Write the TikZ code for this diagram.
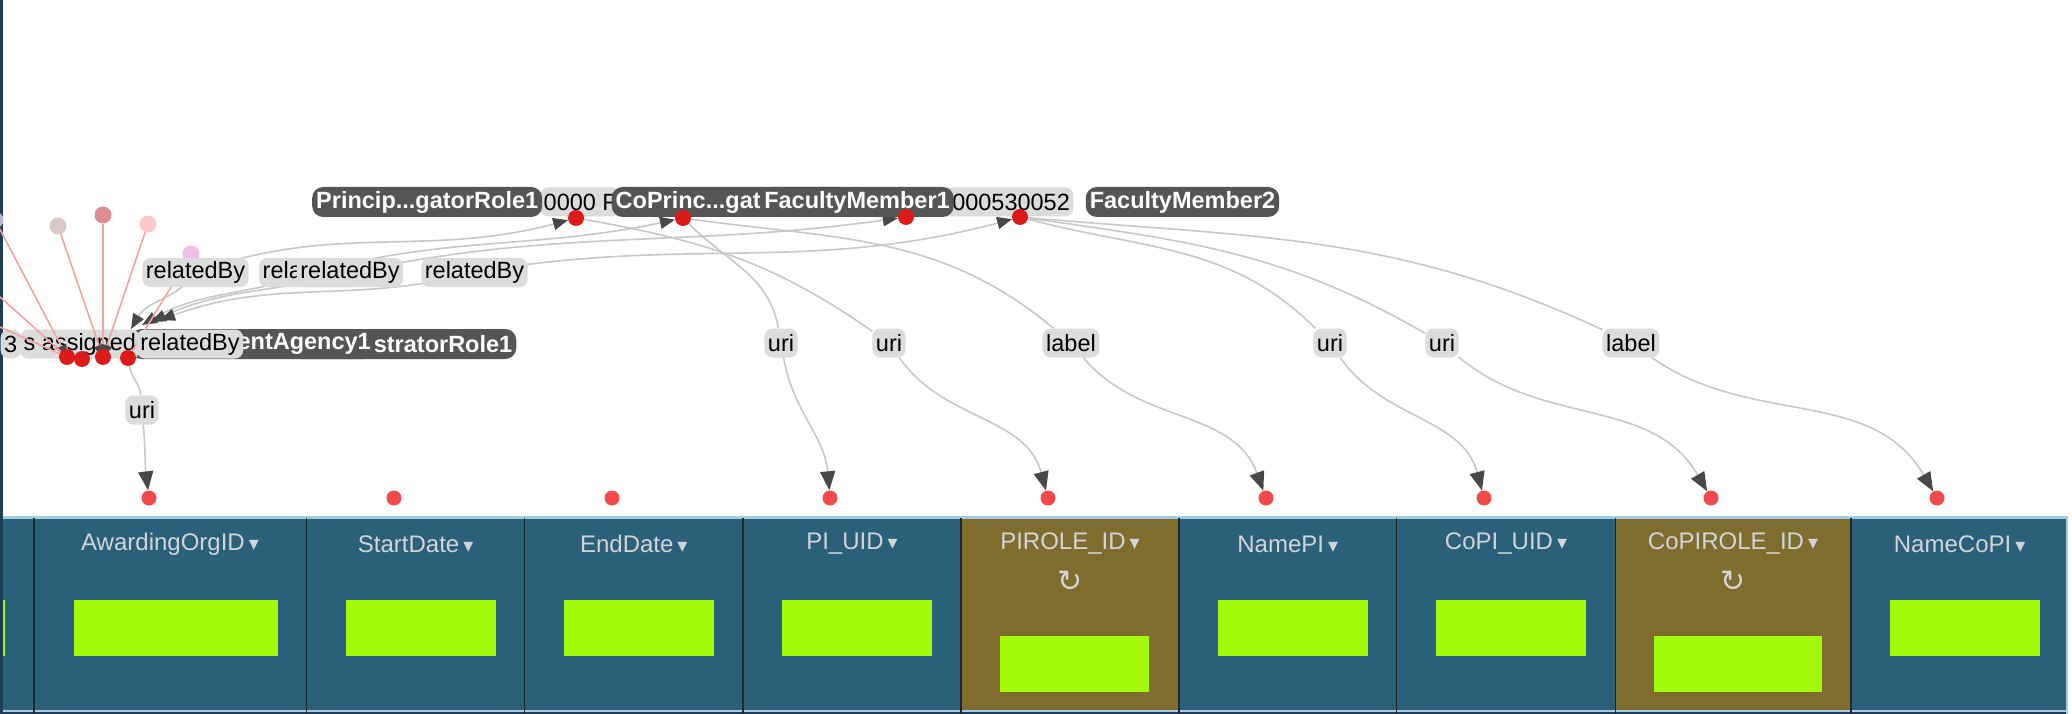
\documentclass[tikz,border=0pt]{standalone}
\usepackage{fontspec}
\setmainfont{Liberation Sans}
\newfontfamily\symfont{DejaVu Sans}
\usetikzlibrary{arrows.meta}
\pgfdeclarelayer{bg}
\pgfdeclarelayer{links}
\pgfdeclarelayer{low}
\pgfdeclarelayer{reds}
\pgfsetlayers{bg,links,low,reds,main}

\definecolor{colblue}{HTML}{2A607A}
\definecolor{cololive}{HTML}{7E6D2C}
\definecolor{limegreen}{HTML}{A2FA08}
\definecolor{hdrgray}{HTML}{D2D5D8}
\definecolor{lblgray}{HTML}{DCDCDC}
\definecolor{labeldark}{HTML}{555555}
\definecolor{edgegray}{HTML}{C8C8C8}
\definecolor{tipgray}{HTML}{484848}
\definecolor{nodered}{HTML}{DD1A1A}
\definecolor{colred}{HTML}{F24A4A}
\definecolor{linkred}{HTML}{F4A3A3}
\definecolor{bandline}{HTML}{A3CBE2}
\definecolor{edgeblue}{HTML}{1F3E55}
\definecolor{sepdark}{HTML}{262626}

\newcommand\ddarrow{{\symfont\fontsize{20}{20}\selectfont ▾}}
\newcommand\reloadicon{{\symfont\fontsize{30}{30}\selectfont ↻}}

\begin{document}
\begin{tikzpicture}[x=1pt,y=-1pt,
  font=\fontsize{23.5}{28}\selectfont,
  lightlbl/.style={fill=lblgray,text=black,rounded corners=8pt,inner xsep=3.5pt,inner ysep=0pt,minimum height=29pt},
  darklbl/.style={fill=labeldark,text=white,font=\fontsize{23.5}{28}\selectfont\bfseries,rounded corners=11pt,inner xsep=4pt,inner ysep=0pt,minimum height=30pt},
  hdr/.style={text=hdrgray,font=\fontsize{24}{28}\selectfont},
  topdot/.style={circle,fill=nodered,inner sep=0pt,minimum size=16pt},
  coldot/.style={circle,fill=colred,inner sep=0pt,minimum size=15pt},
  fadedot/.style={circle,inner sep=0pt,minimum size=17pt},
  graylink/.style={draw=edgegray,line width=1.6pt},
  redlink/.style={draw=linkred,line width=1.6pt},
  bigtip/.style={-{Triangle[length=19pt,width=15pt,color=tipgray]}},
  bothtips/.style={{Triangle[length=15pt,width=12pt,color=tipgray]}-{Triangle[length=15pt,width=12pt,color=tipgray]}},
  redtip/.style={-{Triangle[length=13pt,width=11pt,color=tipgray]},shorten >=-9pt},
  sepline/.style={draw=sepdark,line width=1.5pt}]
\useasboundingbox (0,0) rectangle (2072,714);

%columns
\begin{pgfonlayer}{bg}
\fill[white] (0,0) rectangle (2072,714);
\fill[colblue] (0,518) rectangle (961,710);
\fill[cololive] (961,518) rectangle (1179,710);
\fill[colblue] (1179,518) rectangle (1615.3,710);
\fill[cololive] (1615.3,518) rectangle (1851.2,710);
\fill[colblue] (1851.2,518) rectangle (2068,710);
\fill[edgeblue] (0,711) rectangle (2068,714);
\draw[bandline,line width=3pt] (0,517) -- (2068,517);
\draw[bandline,line width=2pt] (0,710.5) -- (2068,710.5);
\draw[bandline,line width=2pt] (2067,516) -- (2067,714);
\draw[sepline] (34,518) -- (34,714);
\draw[sepline] (306.6,518) -- (306.6,714);
\draw[sepline] (524.7,518) -- (524.7,714);
\draw[sepline] (742.9,518) -- (742.9,714);
\draw[sepline] (961,518) -- (961,714);
\draw[sepline] (1179,518) -- (1179,714);
\draw[sepline] (1396.5,518) -- (1396.5,714);
\draw[sepline] (1615.3,518) -- (1615.3,714);
\draw[sepline] (1851.2,518) -- (1851.2,714);
%lime boxes
\fill[limegreen] (0,600) rectangle (5,656);
\fill[limegreen] (74,600) rectangle (278,656);
\fill[limegreen] (346,600) rectangle (496,656);
\fill[limegreen] (564,600) rectangle (714,656);
\fill[limegreen] (782,600) rectangle (932,656);
\fill[limegreen] (1000,636) rectangle (1149,692);
\fill[limegreen] (1218,600) rectangle (1368,656);
\fill[limegreen] (1436,600) rectangle (1586,656);
\fill[limegreen] (1654,636) rectangle (1822,692);
\fill[limegreen] (1890,600) rectangle (2040,656);
\fill[edgeblue] (0,0) rectangle (2.5,714);
\end{pgfonlayer}

%headers
\node[hdr] (hawd) at (170,544) {AwardingOrgID\,\ddarrow};
\node[hdr] (hstart) at (415.6,544) {StartDate\,\ddarrow};
\node[hdr] (hend) at (633.8,544) {EndDate\,\ddarrow};
\node[hdr] (hpiuid) at (852,544) {PI\_UID\,\ddarrow};
\node[hdr] (hpirole) at (1070,544) {PIROLE\_ID\,\ddarrow};
\node[hdr] (rpirole) at (1070,581) {\reloadicon};
\node[hdr] (hnamepi) at (1287.7,544) {NamePI\,\ddarrow};
\node[hdr] (hcopiuid) at (1506,544) {CoPI\_UID\,\ddarrow};
\node[hdr] (hcopirole) at (1733,544) {CoPIROLE\_ID\,\ddarrow};
\node[hdr] (rcopirole) at (1733,581) {\reloadicon};
\node[hdr] (hnamecopi) at (1959.6,544) {NameCoPI\,\ddarrow};

%left cluster labels
\begin{pgfonlayer}{low}
\node[darklbl,anchor=west] (adminrole) at (290,344) {AdministratorRole1};
\node[darklbl,anchor=east] (agency) at (375,344) {GovernmentAgency1};
\node[lightlbl,anchor=east] (numlbl) at (21,344) {3};
\node[lightlbl,anchor=west] (assignlbl) at (20,344) {s assigned};
\end{pgfonlayer}

%faded nodes
\node[fadedot,fill={rgb,255:red,190;green,180;blue,216}] (fd0) at (-5,220) {};
\node[fadedot,fill={rgb,255:red,220;green,199;blue,199}] (fd1) at (58,226) {};
\node[fadedot,fill={rgb,255:red,221;green,140;blue,143}] (fd2) at (103,215) {};
\node[fadedot,fill={rgb,255:red,252;green,201;blue,201}] (fd3) at (148,224) {};
\node[fadedot,fill={rgb,255:red,238;green,189;blue,232}] (fd4) at (191,254) {};
\coordinate (le2) at (0,297);
\coordinate (le3) at (0,327);

%link labels
\node[lightlbl] (rel1) at (195.5,272.5) {relatedBy};
\node[lightlbl,anchor=west] (rel2) at (259,272.5) {relatedBy};
\node[lightlbl] (rel3) at (350,272.5) {relatedBy};
\node[lightlbl] (rel4) at (474.5,272.5) {relatedBy};
\node[lightlbl] (rellow) at (190,344) {relatedBy};
\node[lightlbl] (uri0) at (142,410) {uri};
\node[lightlbl] (uri1) at (781,343) {uri};
\node[lightlbl] (uri2) at (889,343) {uri};
\node[lightlbl] (lab1) at (1071,343) {label};
\node[lightlbl] (uri3) at (1330,343) {uri};
\node[lightlbl] (uri4) at (1442,343) {uri};
\node[lightlbl] (lab2) at (1631,343) {label};

%class nodes
\node[lightlbl,anchor=west] (idlbl1) at (540,202) {0000 F};
\node[darklbl,anchor=west] (princip) at (312,202) {Princip...gatorRole1};
\node[darklbl,anchor=west] (coprinc) at (611.5,202) {CoPrinc...gatorRole1};
\node[lightlbl,anchor=east] (idlbl2) at (1073.6,202) {0000530052};
\node[darklbl] (faculty1) at (857,202) {FacultyMember1};
\node[darklbl] (faculty2) at (1182.5,202) {FacultyMember2};

%dots
\node[topdot] (d576) at (576,218) {};
\node[topdot] (d683) at (683,218) {};
\node[topdot] (d906) at (906,217) {};
\node[topdot] (d1020) at (1020,217) {};
\node[topdot] (c67) at (67,357) {};
\node[topdot] (c82) at (82,359) {};
\node[topdot] (c103) at (103,357) {};
\node[topdot] (c128) at (128,358) {};
\node[coldot] (awd) at (149,498) {};
\node[coldot] (start) at (394,498) {};
\node[coldot] (end) at (612,498) {};
\node[coldot] (piuid) at (830,498) {};
\node[coldot] (pirole) at (1048,498) {};
\node[coldot] (namepi) at (1266,498) {};
\node[coldot] (copiuid) at (1484,498) {};
\node[coldot] (copirole) at (1711,498) {};
\node[coldot] (namecopi) at (1937,498) {};
\coordinate (rc1) at (131,329);
\coordinate (rc2) at (142,325);
\coordinate (rc3) at (151,322);
\coordinate (rc4) at (160,320);

%gray links
\begin{pgfonlayer}{links}
\draw[graylink,bothtips] (rc1) to[out=60,in=235] (rel1.center) to[out=20,in=195] (d576);
\draw[graylink,bothtips] (rc2) to[out=30,in=200] (rel2.center) to[out=15,in=192] (d683);
\draw[graylink,bothtips] (rc3) to[out=25,in=195] (rel3.center) to[out=12,in=188] (d906);
\draw[graylink,bothtips] (rc4) to[out=20,in=195] (rel4.center) to[out=10,in=195] (d1020);
\draw[graylink] (c128) to[out=-80,in=95] (uri0);
\draw[graylink,bigtip] (uri0) to[out=-85,in=97] (awd);
\draw[graylink] (d683) to[out=-45,in=100] (uri1);
\draw[graylink,bigtip] (uri1) to[out=-80,in=95] (piuid);
\draw[graylink] (d576) to[out=-10,in=145] (uri2);
\draw[graylink,bigtip] (uri2) to[out=-55,in=105] (pirole);
\draw[graylink] (d683) to[out=-8,in=140] (lab1);
\draw[graylink,bigtip] (lab1) to[out=-50,in=110] (namepi);
\draw[graylink] (d1020) to[out=-15,in=135] (uri3);
\draw[graylink,bigtip] (uri3) to[out=-55,in=105] (copiuid);
\draw[graylink] (d1020) to[out=-8,in=150] (uri4);
\draw[graylink,bigtip] (uri4) to[out=-40,in=120] (copirole);
\draw[graylink] (d1020) to[out=-5,in=155] (lab2);
\draw[graylink,bigtip] (lab2) to[out=-35,in=120] (namecopi);
\end{pgfonlayer}

%red links
\begin{pgfonlayer}{reds}
\draw[redlink,redtip] (fd0) -- (c67);
\draw[redlink] (le2) -- (c67);
\draw[redlink] (le3) -- (c67);
\draw[redlink,redtip] (fd1) -- (c103);
\draw[redlink] (fd2) -- (c103);
\draw[redlink,redtip] (fd3) -- (c103);
\draw[redlink] (fd4) -- (c128);
\end{pgfonlayer}
\end{tikzpicture}
\end{document}
